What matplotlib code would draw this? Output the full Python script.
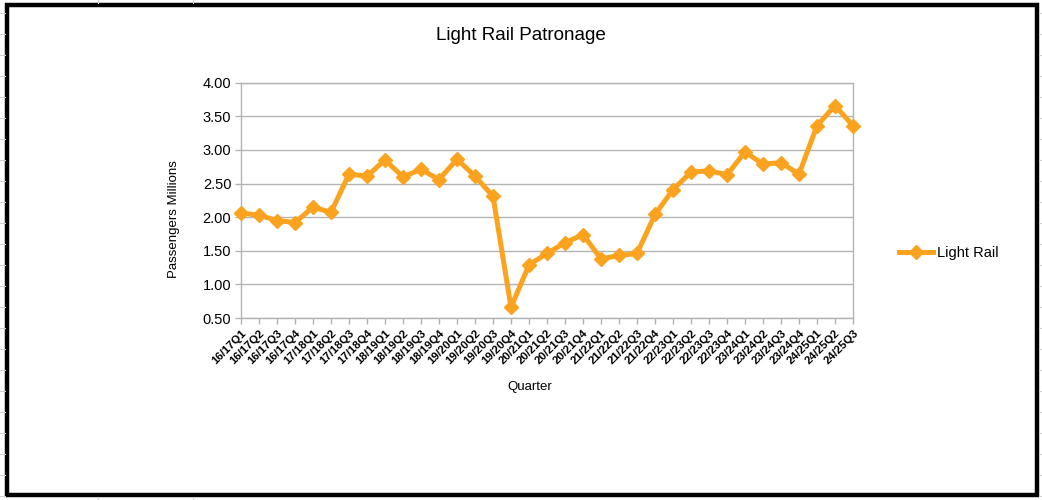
import matplotlib
matplotlib.use("Agg")
import matplotlib.pyplot as plt
from matplotlib.lines import Line2D
from matplotlib.patches import Rectangle

plt.rcParams["font.family"] = ["Liberation Sans", "DejaVu Sans"]

# -------------------------------------------------
# Data
# -------------------------------------------------
QUARTERS = [
    "16/17Q1", "16/17Q2", "16/17Q3", "16/17Q4",
    "17/18Q1", "17/18Q2", "17/18Q3", "17/18Q4",
    "18/19Q1", "18/19Q2", "18/19Q3", "18/19Q4",
    "19/20Q1", "19/20Q2", "19/20Q3", "19/20Q4",
    "20/21Q1", "20/21Q2", "20/21Q3", "20/21Q4",
    "21/22Q1", "21/22Q2", "21/22Q3", "21/22Q4",
    "22/23Q1", "22/23Q2", "22/23Q3", "22/23Q4",
    "23/24Q1", "23/24Q2", "23/24Q3", "23/24Q4",
    "24/25Q1", "24/25Q2", "24/25Q3",
]
PASSENGERS = [
    2.06, 2.03, 1.95, 1.92,
    2.15, 2.07, 2.64, 2.61,
    2.85, 2.60, 2.71, 2.56,
    2.86, 2.61, 2.31, 0.66,
    1.29, 1.46, 1.62, 1.74,
    1.38, 1.43, 1.46, 2.04,
    2.41, 2.67, 2.69, 2.63,
    2.97, 2.79, 2.81, 2.64,
    3.36, 3.66, 3.36,
]
Y_TICKS = [0.5, 1.0, 1.5, 2.0, 2.5, 3.0, 3.5, 4.0]

ORANGE = "#FBA31F"
GRID = "#B3B3B3"

# -------------------------------------------------
# Figure
# -------------------------------------------------
W, H, DPI = 1042, 500, 100
fig = plt.figure(figsize=(W / DPI, H / DPI), dpi=DPI)
fig.patch.set_facecolor("white")

# faint spreadsheet cells outside the chart border
for yy in range(13, 500, 21):
    fig.add_artist(Line2D([0, 5 / W], [1 - yy / H] * 2, color="#D0D0D0", lw=0.8))
    fig.add_artist(Line2D([1039 / W, 1], [1 - yy / H] * 2, color="#D0D0D0", lw=0.8))
for xx in [98, 193]:
    fig.add_artist(Line2D([xx / W] * 2, [1, 1 - 3 / H], color="#D0D0D0", lw=0.8))
    fig.add_artist(Line2D([xx / W] * 2, [0, 3 / H], color="#D0D0D0", lw=0.8))

# chart border
fig.add_artist(Rectangle((7 / W, 5 / H), 1030 / W, 490 / H,
                         fill=False, edgecolor="black", lw=3.2,
                         transform=fig.transFigure))

ax = fig.add_axes([241 / W, 182 / H, 612 / W, 235.3 / H])

x = list(range(len(QUARTERS)))
ax.plot(x, PASSENGERS, color=ORANGE, lw=3.6, marker="D", ms=7,
        mec=ORANGE, mfc=ORANGE, clip_on=False, zorder=3, label="Light Rail")

ax.set_xlim(0, len(QUARTERS) - 1)
ax.set_ylim(0.5, 4.0)
ax.set_yticks(Y_TICKS)
ax.set_yticklabels([f"{v:.2f}" for v in Y_TICKS], fontsize=10.5)
ax.set_xticks(x)
ax.set_xticklabels(QUARTERS, rotation=45, ha="right", rotation_mode="anchor",
                   fontsize=8.2, fontweight="bold")

ax.grid(axis="y", color=GRID, lw=1)
ax.set_axisbelow(True)
for s in ax.spines.values():
    s.set_color(GRID)
    s.set_linewidth(1)
ax.tick_params(axis="both", color=GRID, length=4, width=1, pad=3)

ax.set_ylabel("Passengers Millions", fontsize=9.5)
ax.yaxis.set_label_coords(-0.1, 0.42)
ax.set_xlabel("Quarter", fontsize=9.5)
ax.xaxis.set_label_coords(0.4714, -0.268)

fig.text(521 / W, 1 - 36 / H, "Light Rail Patronage", fontsize=13.6,
         ha="center", va="center")

ax.legend(loc="center left", bbox_to_anchor=(899 / W, 1 - 253 / H),
          bbox_transform=fig.transFigure, frameon=False, fontsize=10.5,
          handlelength=2.3, handletextpad=0.3, borderpad=0, borderaxespad=0)

fig.savefig("out.png", dpi=DPI, facecolor="white")
